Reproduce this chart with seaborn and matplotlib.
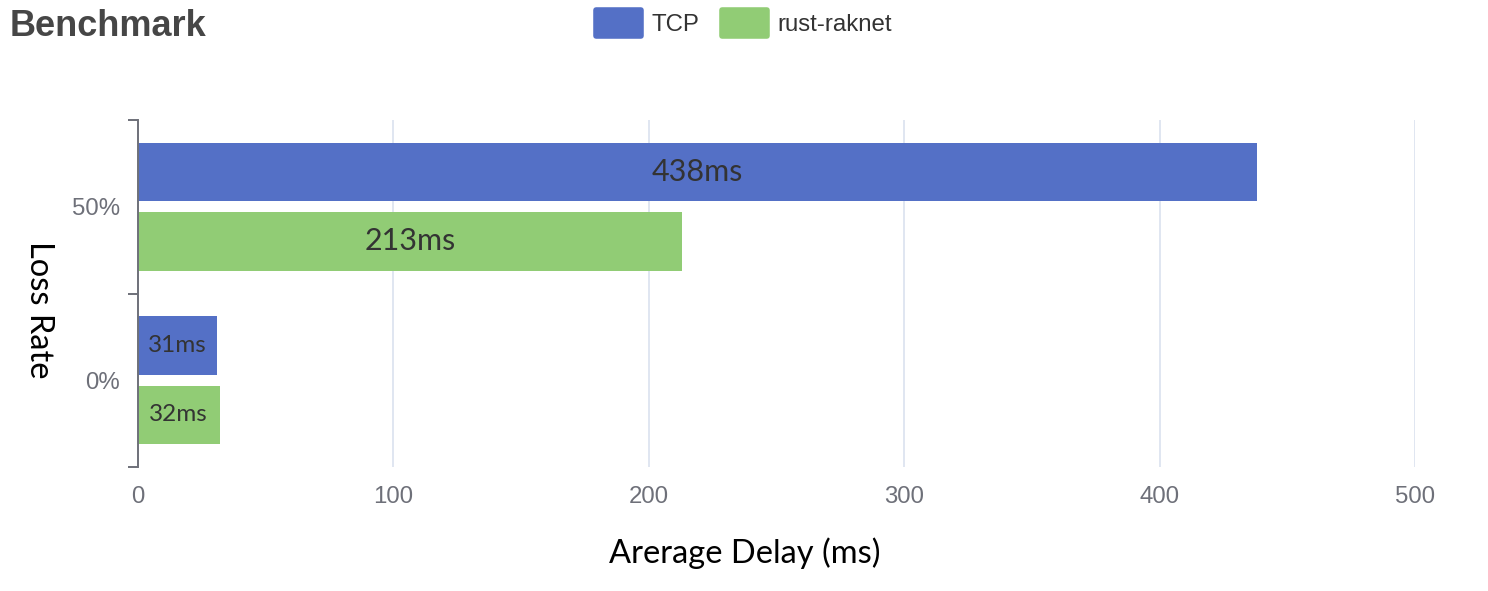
import pandas as pd
import matplotlib.pyplot as plt
import seaborn as sns

loss_rates = ['50%', '0%']
protocols = ['TCP', 'rust-raknet']
tcp_delay = [438, 31]
raknet_delay = [213, 32]
x_ticks = [0, 100, 200, 300, 400, 500]

df = pd.DataFrame({
    'loss': loss_rates * 2,
    'proto': [protocols[0]] * 2 + [protocols[1]] * 2,
    'delay': tcp_delay + raknet_delay,
})

sns.set_style('white')
plt.rcParams['font.family'] = ['Liberation Sans', 'DejaVu Sans']

fig = plt.figure(figsize=(14.88, 5.91), dpi=100)
ax = fig.add_axes([0.0927, 0.2098, 0.8583, 0.5871])

sns.barplot(data=df, y='loss', x='delay', hue='proto', order=loss_rates,
            hue_order=protocols, palette=['#5470c6', '#91cc75'], saturation=1,
            width=0.8, gap=0.16, orient='h', linewidth=0, ax=ax, errorbar=None)

# value labels inside the bars
for cont in ax.containers:
    texts = ax.bar_label(cont, fmt='{:.0f}ms', label_type='center',
                         color='#333333', family=['Lato', 'DejaVu Sans'])
    for t, lr in zip(texts, loss_rates):
        t.set_fontsize(22 if lr == '50%' else 17.5)

ax.set_xlim(0, 500)
ax.set_xticks(x_ticks)
ax.set_ylim(1.5, -0.5)
ax.set_yticks([0, 1])
ax.set_yticks([-0.5, 0.5, 1.5], minor=True)
ax.tick_params(axis='x', length=0, pad=14, labelsize=17.3, labelcolor='#6E7079')
ax.tick_params(axis='y', which='major', length=0, pad=13, labelsize=17.3,
               labelcolor='#6E7079')
ax.tick_params(axis='y', which='minor', length=7.2, width=1.4, color='#6E7079',
               left=True)

ax.grid(axis='x', color='#E0E6F1', lw=1.4)
ax.set_axisbelow(True)
for s in ['top', 'right', 'bottom']:
    ax.spines[s].set_visible(False)
ax.spines['left'].set_color('#6E7079')
ax.spines['left'].set_linewidth(1.4)

ax.set_xlabel('Arerage Delay (ms)', fontsize=23.5, color='black', va='center',
              family=['Lato', 'DejaVu Sans'])
ax.xaxis.set_label_coords(0.475, -0.248)
ax.set_ylabel('Loss Rate', fontsize=23.5, color='black', rotation=270, va='center',
              family=['Lato', 'DejaVu Sans'])
ax.yaxis.set_label_coords(-0.0775, 0.452)

sns.move_legend(ax, 'center', bbox_to_anchor=(0.5, 0.961),
                bbox_transform=fig.transFigure, ncol=2, frameon=False, title=None,
                fontsize=17.3, handlelength=1.85, handleheight=1.3,
                handletextpad=0.45, columnspacing=0.95, labelcolor='#333333')
# rounded legend boxes
for h in ax.get_legend().legend_handles:
    h.set_edgecolor(h.get_facecolor())
    h.set_linewidth(4)
    h.set_joinstyle('round')

fig.text(10 / 1488, 1 - 27 / 591, 'Benchmark', fontsize=26, fontweight='bold',
         color='#464646', va='center', ha='left')

fig.savefig('out.png', dpi=100)
